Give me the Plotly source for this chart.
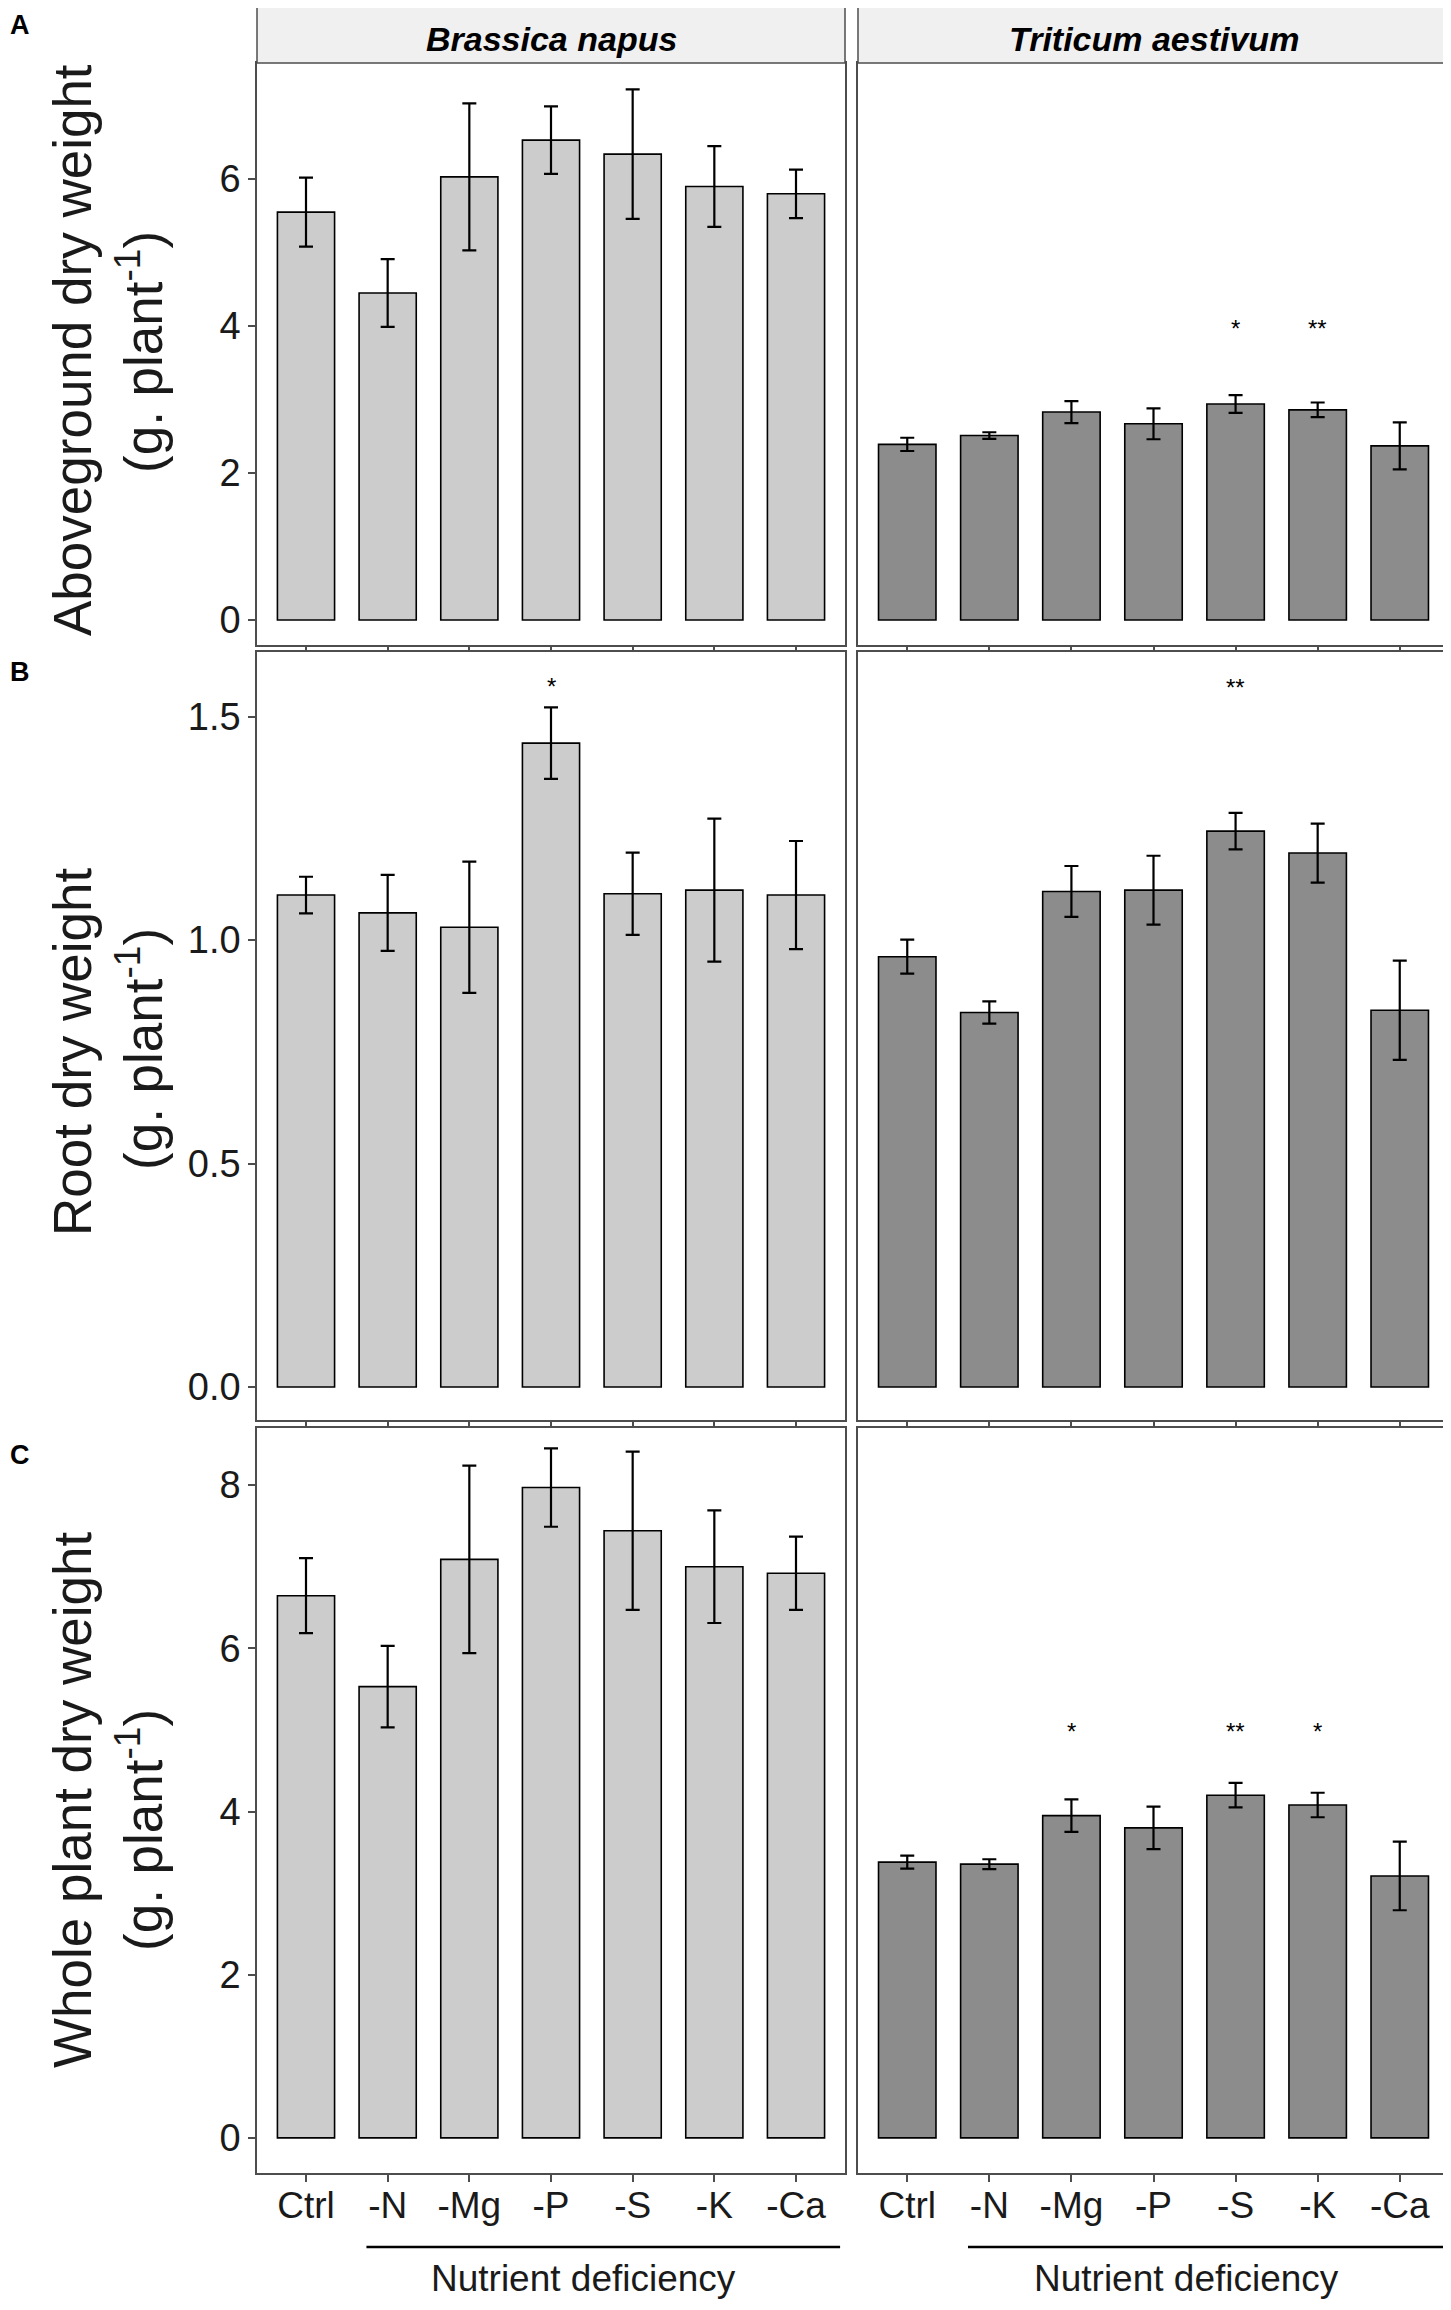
import plotly.graph_objects as go

# ---------------- data ----------------
categories = ["Ctrl", "-N", "-Mg", "-P", "-S", "-K", "-Ca"]
species = ["Brassica napus", "Triticum aestivum"]

above_bn = [5.55, 4.45, 6.03, 6.53, 6.34, 5.90, 5.80]
above_bn_se = [0.47, 0.46, 1.00, 0.46, 0.88, 0.55, 0.33]
above_ta = [2.39, 2.51, 2.83, 2.67, 2.94, 2.86, 2.37]
above_ta_se = [0.09, 0.045, 0.15, 0.21, 0.12, 0.10, 0.32]

root_bn = [1.101, 1.061, 1.029, 1.441, 1.104, 1.112, 1.101]
root_bn_se = [0.041, 0.085, 0.147, 0.080, 0.092, 0.160, 0.121]
root_ta = [0.963, 0.838, 1.109, 1.112, 1.244, 1.195, 0.843]
root_ta_se = [0.038, 0.025, 0.057, 0.077, 0.041, 0.066, 0.111]

whole_bn = [6.645, 5.53, 7.09, 7.97, 7.44, 7.00, 6.92]
whole_bn_se = [0.46, 0.50, 1.15, 0.48, 0.97, 0.69, 0.45]
whole_ta = [3.38, 3.355, 3.95, 3.80, 4.20, 4.08, 3.21]
whole_ta_se = [0.08, 0.06, 0.20, 0.26, 0.15, 0.15, 0.42]

# significance marks: (panel row, species index, category, label, y)
signif = [
    (0, 1, "-S", "*", 4.0), (0, 1, "-K", "**", 4.0),
    (1, 0, "-P", "*", 1.573), (1, 1, "-S", "**", 1.57),
    (2, 1, "-Mg", "*", 5.0), (2, 1, "-S", "**", 5.0), (2, 1, "-K", "*", 5.0),
]

row_letters = ["A", "B", "C"]
ytitle_line1 = ["Aboveground dry weight", "Root dry weight", "Whole plant dry weight"]
ytitle_line2 = "(g. plant<sup>-1</sup>)"
yticks = [[0, 2, 4, 6], [0.0, 0.5, 1.0, 1.5], [0, 2, 4, 6, 8]]
yticktext = [["0", "2", "4", "6"], ["0.0", "0.5", "1.0", "1.5"], ["0", "2", "4", "6", "8"]]
yranges = [[-0.34, 7.58], [-0.074, 1.645], [-0.43, 8.70]]
xlabel = "Nutrient deficiency"

values = [[(above_bn, above_bn_se), (above_ta, above_ta_se)],
          [(root_bn, root_bn_se), (root_ta, root_ta_se)],
          [(whole_bn, whole_bn_se), (whole_ta, whole_ta_se)]]

# ---------------- layout geometry (screen pixels) ----------------
OFF = 8                      # default page body margin
W, H = 1451 - OFF, 2310 - OFF


def px(x):
    return (x - OFF) / W


def py(y):
    return 1 - (y - OFF) / H


xcols = [(257, 845), (858, 1449)]
yrows = [(63, 645), (652, 1420), (1428, 2173)]
strip_top = 6
ytitle_centers = [(350, 352), (1052, 1049), (1800, 1830)]
letter_y = [None, 672, 1455]

FONT = "Liberation Sans, Arial, Helvetica, sans-serif"
fills = ["#cccccc", "#8c8c8c"]
BORDER = "#4d4d4d"

fig = go.Figure()
layout = dict(width=W, height=H, margin=dict(l=0, r=0, t=0, b=0),
              paper_bgcolor="white", plot_bgcolor="white", showlegend=False,
              font=dict(family=FONT, color="#1a1a1a"))
annotations = []
shapes = []

idx = 0
for r in range(3):
    for c in range(2):
        idx += 1
        xa = "x" if idx == 1 else f"x{idx}"
        ya = "y" if idx == 1 else f"y{idx}"
        xkey = "xaxis" if idx == 1 else f"xaxis{idx}"
        ykey = "yaxis" if idx == 1 else f"yaxis{idx}"
        vals, se = values[r][c]
        fig.add_trace(go.Bar(
            x=categories, y=vals, xaxis=xa, yaxis=ya, width=0.7,
            marker=dict(color=fills[c], line=dict(color="black", width=1.6)),
            error_y=dict(type="data", array=se, color="black", thickness=2.2, width=7),
        ))
        x0, x1 = xcols[c]
        y0, y1 = yrows[r]
        xdict = dict(
            domain=[px(x0), px(x1)], range=[-0.6, 6.6], type="category",
            categoryorder="array", categoryarray=categories,
            anchor=ya, showgrid=False, zeroline=False,
            showline=True, mirror=True, linecolor=BORDER, linewidth=1.5,
            ticks="outside", ticklen=7 if r == 2 else 4, tickwidth=1.5, tickcolor=BORDER,
            showticklabels=(r == 2), tickfont=dict(size=37, family=FONT, color="#1a1a1a"),
            fixedrange=True,
        )
        if r == 2:
            xdict["ticklabelstandoff"] = -8
        layout[xkey] = xdict
        layout[ykey] = dict(
            domain=[py(y1), py(y0)], range=yranges[r], anchor=xa,
            showgrid=False, zeroline=False,
            showline=True, mirror=True, linecolor=BORDER, linewidth=1.5,
            ticks="outside" if c == 0 else "", ticklen=7, tickwidth=1.5, tickcolor=BORDER,
            tickvals=yticks[r], ticktext=yticktext[r], showticklabels=(c == 0),
            tickfont=dict(size=38, family=FONT, color="#1a1a1a"), fixedrange=True,
        )
        # facet strip on the top row
        if r == 0:
            sh = (y0 - strip_top) / (y1 - y0)
            shapes.append(dict(type="rect", xref=f"{xa} domain", yref=f"{ya} domain",
                               x0=0, x1=1, y0=1, y1=1 + sh,
                               fillcolor="#f0f0f0", line=dict(color=BORDER, width=1.5)))
            annotations.append(dict(xref=f"{xa} domain", yref="paper", x=0.5,
                                    y=py(39), yanchor="middle", showarrow=False,
                                    text=f"<b><i>{species[c]}</i></b>",
                                    font=dict(size=34, family=FONT, color="black")))
        # x label with bracket line on bottom row
        if r == 2:
            shapes.append(dict(type="line", xref=xa, yref="paper", x0=0.74, x1=6.54,
                               y0=py(2247), y1=py(2247),
                               line=dict(color="black", width=2.5)))
            annotations.append(dict(xref=xa, yref="paper", x=3.4, y=py(2278),
                                    yanchor="middle", showarrow=False, text=xlabel,
                                    font=dict(size=37, family=FONT, color="#1a1a1a")))

# significance asterisks
for r, c, cat, lab, yv in signif:
    i = r * 2 + c + 1
    xa = "x" if i == 1 else f"x{i}"
    ya = "y" if i == 1 else f"y{i}"
    annotations.append(dict(xref=xa, yref=ya, x=cat, y=yv, text=lab, showarrow=False,
                            yanchor="middle", yshift=-2,
                            font=dict(size=24, family=FONT, color="black")))

# y titles and row letters
for r in range(3):
    c1, c2 = ytitle_centers[r]
    annotations.append(dict(xref="paper", yref="paper", x=px(72), y=py(c1),
                            xanchor="center", yanchor="middle", textangle=-90,
                            showarrow=False, text=ytitle_line1[r],
                            font=dict(size=53, family=FONT, color="#1a1a1a")))
    annotations.append(dict(xref="paper", yref="paper", x=px(139), y=py(c2),
                            xanchor="center", yanchor="middle", textangle=-90,
                            showarrow=False, text=ytitle_line2,
                            font=dict(size=53, family=FONT, color="#1a1a1a")))
    if letter_y[r] is None:
        ly, yanc = 1.0, "top"
    else:
        ly, yanc = py(letter_y[r]), "middle"
    annotations.append(dict(xref="paper", yref="paper", x=0, y=ly,
                            xanchor="left", yanchor=yanc, showarrow=False,
                            text=f"<b>{row_letters[r]}</b>",
                            font=dict(size=27, family=FONT, color="black")))

layout["annotations"] = annotations
layout["shapes"] = shapes
fig.update_layout(**layout)
fig.write_html("out.html")
